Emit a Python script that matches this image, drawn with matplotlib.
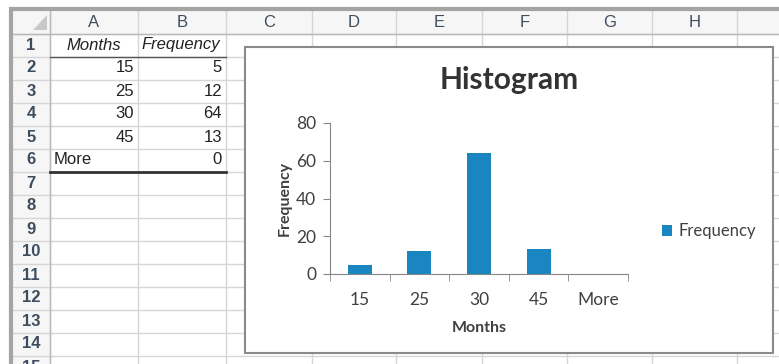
import matplotlib
matplotlib.use("Agg")
import matplotlib.pyplot as plt
from matplotlib.patches import Rectangle, Polygon

# data in the worksheet / chart
months = ['15', '25', '30', '45', 'More']
freq = [5, 12, 64, 13, 0]
col_letters = ['A', 'B', 'C', 'D', 'E', 'F', 'G', 'H']
col_edges = [50, 138, 226, 312, 396, 482, 567, 652, 737, 822]
row_numbers = list(range(1, 16))
yticks = [0, 20, 40, 60, 80]

W, H = 779, 364
fig = plt.figure(figsize=(W / 100, H / 100), dpi=100)

# background "spreadsheet" drawn in pixel coords
bg = fig.add_axes([0, 0, 1, 1])
bg.set_xlim(0, W)
bg.set_ylim(H, 0)
bg.axis('off')

grid_c = '#d6d6d6'
head_c = '#3d4d60'
cell_font = 'Liberation Sans'
cell_size = 12
top, left = 10, 12
head_bot = 33.5
row_h = 23

# header band + row-number band
bg.add_patch(Rectangle((left, top), W - left, head_bot - top, fc='#f6f6f6', ec='none'))
bg.add_patch(Rectangle((left, top), col_edges[0] - left, H - top, fc='#f6f6f6', ec='none'))
bg.add_patch(Polygon([[47, 15], [47, 30], [33, 30]], closed=True, fc='#c8c8c8', ec='none'))

# grid lines
for x in col_edges:
    bg.plot([x, x], [top, H], color=grid_c, lw=1)
for i in range(len(row_numbers)):
    y = head_bot + i * row_h
    bg.plot([left, W], [y, y], color=grid_c, lw=1)
bg.plot([left, W], [head_bot, head_bot], color='#b8b8b8', lw=1)
bg.plot([col_edges[0], col_edges[0]], [top, H], color='#b8b8b8', lw=1)

# outer frame
bg.plot([left, W], [top - 1, top - 1], color='#a4a4a4', lw=3)
bg.plot([left - 1, left - 1], [top - 1, H], color='#a4a4a4', lw=3)

# column letters
for i, c in enumerate(col_letters):
    xc = (col_edges[i] + col_edges[i + 1]) / 2
    bg.text(xc, (top + head_bot) / 2 + 1, c, ha='center', va='center',
            fontsize=cell_size, color=head_c, family=cell_font)

# row numbers (the last one is cut by the bottom edge, as in the screenshot)
for i, r in enumerate(row_numbers):
    yc = head_bot + (i + 0.5) * row_h
    bg.text(31, yc, str(r), ha='center', va='center', fontsize=cell_size,
            fontweight='bold', color=head_c, family=cell_font)

# table cells
ya = head_bot + 0.5 * row_h
bg.text(94, ya, 'Months', ha='center', va='center', style='italic',
        fontsize=cell_size, color='#222222', family=cell_font)
bg.text(181, ya, 'Frequency', ha='center', va='center', style='italic',
        fontsize=cell_size, color='#222222', family=cell_font)
for i, (m, f) in enumerate(zip(months, freq)):
    yc = head_bot + (i + 1.5) * row_h
    if m.isdigit():
        bg.text(134, yc, m, ha='right', va='center', fontsize=cell_size,
                color='#222222', family=cell_font)
    else:
        bg.text(54, yc, m, ha='left', va='center', fontsize=cell_size,
                color='#222222', family=cell_font)
    bg.text(222, yc, str(f), ha='right', va='center', fontsize=cell_size,
            color='#222222', family=cell_font)
bg.plot([50, 226], [head_bot + row_h, head_bot + row_h], color='#555555', lw=1)
bg.plot([50, 226], [head_bot + 6 * row_h, head_bot + 6 * row_h], color='#333333', lw=2)

# chart area
bg.add_patch(Rectangle((245, 47), 528, 306, fc='white', ec='#8a8a8a', lw=1.5, zorder=5))
bg.text(509, 80, 'Histogram', ha='center', va='center', fontsize=21.5,
        fontweight='bold', color='#333333', family='Lato', zorder=6)

# the chart itself
ax = fig.add_axes([330 / W, 1 - 274 / H, 298 / W, 151 / H])
ax.patch.set_alpha(0)
pos = list(range(len(months)))
ax.bar(pos, freq, width=0.4, color='#1a86c1', label='Frequency')
ax.set_xlim(-0.5, len(months) - 0.5)
ax.set_ylim(0, 80)
ax.set_yticks(yticks)
ax.set_xticks(pos)
ax.set_xticklabels(months)
ax.set_xticks([p - 0.5 for p in range(len(months) + 1)], minor=True)
for s in ['top', 'right']:
    ax.spines[s].set_visible(False)
for s in ['left', 'bottom']:
    ax.spines[s].set_color('#868686')
ax.tick_params(axis='x', which='major', length=0, pad=13, labelsize=12.5, labelcolor='#404040')
ax.tick_params(axis='x', which='minor', length=5, color='#868686', direction='out')
ax.tick_params(axis='y', length=5, color='#868686', labelsize=12.5, labelcolor='#404040', pad=5)
for t in ax.get_xticklabels() + ax.get_yticklabels():
    t.set_family('Lato')
ax.set_xlabel('Months', fontsize=11.5, fontweight='bold', color='#404040', family='Lato', labelpad=9)
ax.set_ylabel('Frequency', fontsize=11.5, fontweight='bold', color='#404040', family='Lato', labelpad=3)

leg = ax.legend(loc='center left', bbox_to_anchor=(662 / W, 1 - 231 / H),
                bbox_transform=fig.transFigure, frameon=False,
                borderpad=0, borderaxespad=0,
                handlelength=0.62, handleheight=0.62, handletextpad=0.4,
                prop={'family': 'Lato', 'size': 12})
for t in leg.get_texts():
    t.set_color('#404040')

fig.savefig('out.png', dpi=100)
